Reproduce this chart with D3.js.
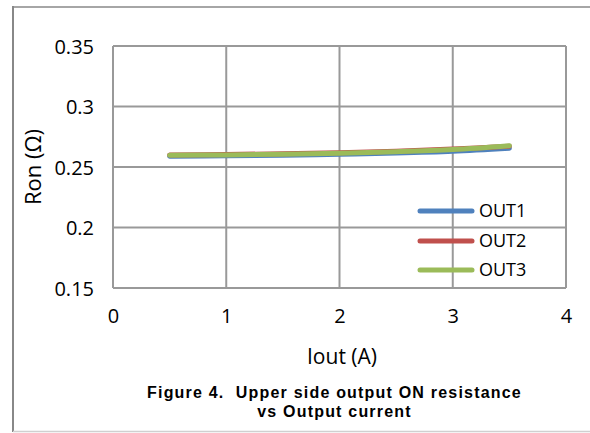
<!DOCTYPE html>
<html><head><meta charset="utf-8">
<script src="https://cdn.jsdelivr.net/npm/d3@7"></script>
<style>body{margin:0;background:#fff}svg{display:block}</style>
</head><body>
<svg id="c" width="590" height="433"></svg>
<script>
const currents = [0.5, 1, 1.5, 2, 2.5, 3, 3.5];
const out1 = [0.2588, 0.2592, 0.2598, 0.2605, 0.2615, 0.2630, 0.2655];
const out2 = [0.2600, 0.2603, 0.2610, 0.2618, 0.2630, 0.2648, 0.2672];
const out3 = [0.2598, 0.2600, 0.2606, 0.2614, 0.2626, 0.2644, 0.2676];
const seriesNames = ["OUT1", "OUT2", "OUT3"];
const xTicks = [0, 1, 2, 3, 4];
const yTicks = [0.15, 0.2, 0.25, 0.3, 0.35];
const colors = ["#4F81BD", "#C0504D", "#9BBB59"];

const svg = d3.select("#c");
const font = "'Open Sans', sans-serif";
// outer frame
svg.append("line").attr("x1",13).attr("y1",7).attr("x2",590).attr("y2",7).attr("stroke","#a6a6a6").attr("stroke-width",2);
svg.append("line").attr("x1",13).attr("y1",6).attr("x2",13).attr("y2",432).attr("stroke","#888").attr("stroke-width",2);
svg.append("line").attr("x1",13).attr("y1",431.5).attr("x2",590).attr("y2",431.5).attr("stroke","#d0d0d0").attr("stroke-width",1.5);

const x = d3.scaleLinear().domain([0,4]).range([113,566]);
const y = d3.scaleLinear().domain([0.15,0.35]).range([288,46]);

const g = svg.append("g");
// gridlines
g.selectAll(".vg").data(xTicks).join("line")
  .attr("x1",d=>x(d)).attr("x2",d=>x(d)).attr("y1",y(0.35)).attr("y2",y(0.15))
  .attr("stroke","#999").attr("stroke-width",2);
g.selectAll(".hg").data(yTicks).join("line")
  .attr("x1",x(0)).attr("x2",x(4)).attr("y1",d=>y(d)).attr("y2",d=>y(d))
  .attr("stroke","#999").attr("stroke-width",2);

// axes labels
const xAxis = d3.axisBottom(x).tickValues(xTicks).tickSize(0).tickPadding(0).tickFormat(d3.format("d"));
const xa = svg.append("g").attr("transform",`translate(0,${y(0.15)+22})`).call(xAxis);
xa.select(".domain").remove();
xa.selectAll("text").attr("font-family",font).attr("font-size",20).attr("fill","#000").attr("dy","0.35em").attr("y",6);

const yAxis = d3.axisLeft(y).tickValues(yTicks).tickSize(0).tickPadding(0).tickFormat(d=>String(+d.toFixed(2)));
const ya = svg.append("g").attr("transform",`translate(94,0)`).call(yAxis);
ya.select(".domain").remove();
ya.selectAll("text").attr("font-family",font).attr("font-size",20).attr("fill","#000").attr("dy","0.35em");

// lines
const series = [out1,out2,out3];
const line = d3.line().x((d,i)=>x(currents[i])).y(d=>y(d)).curve(d3.curveCatmullRom);
series.forEach((s,k)=>{
  svg.append("path").attr("d",line(s)).attr("fill","none").attr("stroke",colors[k])
    .attr("stroke-width",5).attr("stroke-linecap","round");
});

// legend
const legY = [211, 241, 270];
seriesNames.forEach((n,k)=>{
  svg.append("line").attr("x1",420).attr("x2",472).attr("y1",legY[k]).attr("y2",legY[k])
    .attr("stroke",colors[k]).attr("stroke-width",5).attr("stroke-linecap","round");
  svg.append("text").attr("x",479).attr("y",legY[k]).attr("dy","0.35em")
    .attr("font-family",font).attr("font-size",18).text(n);
});

// axis titles
svg.append("text").attr("x",342).attr("y",357).attr("dy","0.35em").attr("text-anchor","middle")
  .attr("font-family",font).attr("font-size",21).text("Iout (A)");
svg.append("text").attr("transform","translate(33,167) rotate(-90)").attr("dy","0.35em").attr("text-anchor","middle")
  .attr("font-family",font).attr("font-size",22).text("Ron (Ω)");

// caption
const capFont = "'Liberation Sans', Arial, sans-serif";
svg.append("text").attr("x",334.5).attr("y",392).attr("dy","0.35em").attr("text-anchor","middle")
  .attr("font-family",capFont).attr("font-weight","bold").attr("font-size",16).attr("letter-spacing","1.2px")
  .style("white-space","pre")
  .text("Figure 4.  Upper side output ON resistance");
svg.append("text").attr("x",334.5).attr("y",411).attr("dy","0.35em").attr("text-anchor","middle")
  .attr("font-family",capFont).attr("font-weight","bold").attr("font-size",16).attr("letter-spacing","1.2px")
  .text("vs Output current");
</script>
</body></html>
